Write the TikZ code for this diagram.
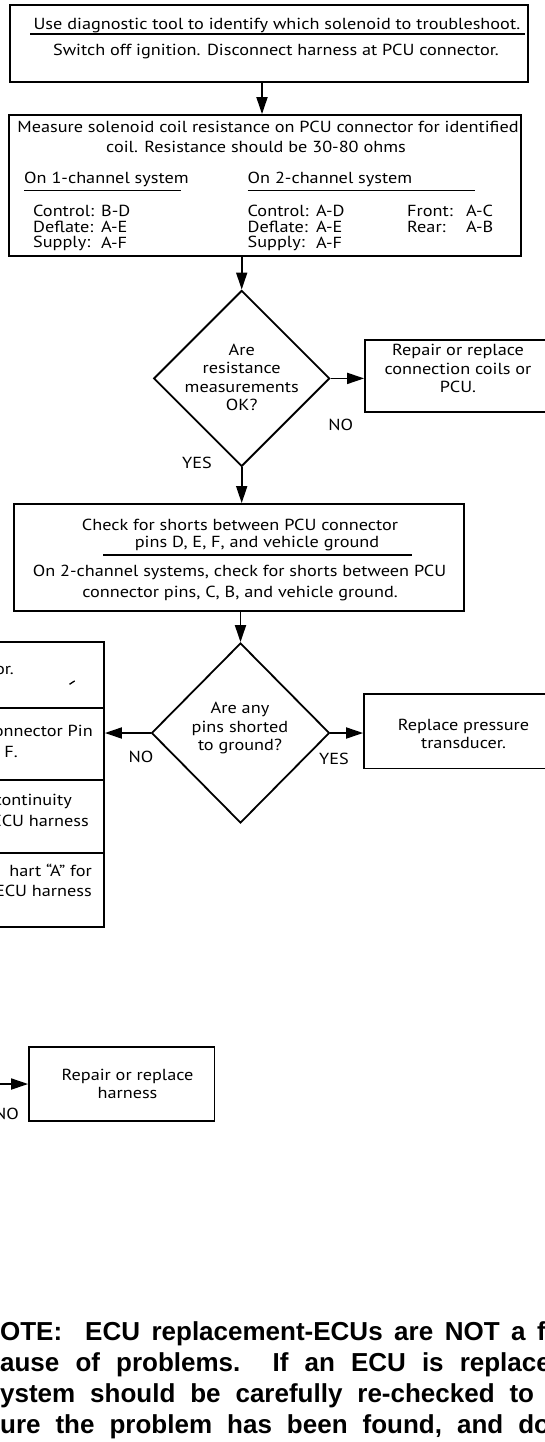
\documentclass[tikz,border=0pt]{standalone}
\usepackage{fontspec}
\newfontfamily\flowfont{PT Sans}[FakeStretch=1.14]
\newfontfamily\notefont{Liberation Sans}
\usetikzlibrary{shapes.geometric,arrows.meta}

\tikzset{
  box/.style={draw,line width=1.8pt,rectangle,inner sep=0pt},
  decide/.style={draw,line width=1.8pt,diamond,aspect=1,inner sep=0pt},
  txt/.style={font=\flowfont\fontsize{16}{18.5}\selectfont,align=center,inner sep=0pt},
  lbl/.style={font=\flowfont\fontsize{16}{18.5}\selectfont,anchor=west,inner sep=0pt},
  arr/.style={line width=1.8pt,-{Triangle[length=17pt,width=11pt]}},
  uline/.style={line width=1.3pt},
  note/.style={font=\notefont\bfseries\fontsize{26}{31}\selectfont\frenchspacing,anchor=base west,inner sep=0pt}
}

\begin{document}
\begin{tikzpicture}[x=1pt,y=-1pt]
  \useasboundingbox (0,0) rectangle (545,1442);
  \clip (0,0) rectangle (545,1442);
  \fill[white] (0,0) rectangle (545,1442);

  % Start: identify solenoid
  \node[box,minimum width=518pt,minimum height=77pt] (ident) at (269,43.5) {};
  \node[txt] (identa) at (277,26) {Use diagnostic tool to identify which solenoid to troubleshoot.};
  \draw[uline] (30,34) -- (525,34);
  \node[txt] (identb) at (276,52) {Switch off ignition. Disconnect harness at PCU connector.};

  % Coil resistance table
  \node[box,minimum width=512pt,minimum height=141pt] (measure) at (265,185.5) {};
  \node[txt] (measa) at (268,127) {Measure solenoid coil resistance on PCU connector for identified};
  \node[txt] (measb) at (256,146.5) {coil. Resistance should be 30-80 ohms};
  \node[lbl] (chone) at (24,179.5) {On 1-channel system};
  \draw[uline] (24,190.5) -- (181,190.5);
  \node[lbl] (chtwo) at (247.5,179.5) {On 2-channel system};
  \draw[uline] (247.5,190.5) -- (474.5,190.5);
  \foreach \nm/\one/\two/\yy [count=\i] in {Control:/B-D/A-D/211,Deflate:/A-E/A-E/226.5,Supply:/A-F/A-F/243} {
    \node[lbl] (onel\i) at (33,\yy) {\nm};
    \node[lbl] (onev\i) at (101,\yy) {\one};
    \node[lbl] (twol\i) at (247.5,\yy) {\nm};
    \node[lbl] (twov\i) at (316,\yy) {\two};
  }
  \node[lbl] (frontl) at (407,211) {Front:};
  \node[lbl] (frontv) at (466,211) {A-C};
  \node[lbl] (rearl) at (407,226.5) {Rear:};
  \node[lbl] (rearv) at (466,226.5) {A-B};

  % Resistance decision
  \node[decide,minimum width=176pt,minimum height=176pt] (resok) at (241.7,378.4) {};
  \node[txt] (resokt) at (241.7,377.5) {Are\\resistance\\measurements\\OK?};
  \node[box,minimum width=186pt,minimum height=72pt] (fixcoil) at (458,376) {};
  \node[txt] (fixcoilt) at (458,368.5) {Repair or replace\\connection coils or\\PCU.};
  \node[txt] (nores) at (340.7,425) {NO};
  \node[txt] (yesres) at (197,463) {YES};

  % Shorts check
  \node[box,minimum width=450pt,minimum height=107pt] (shorts) at (239,557.5) {};
  \node[txt] (shortsa) at (240,525) {Check for shorts between PCU connector};
  \node[txt] (shortsb) at (257,544) {pins D, E, F, and vehicle ground};
  \draw[uline] (103,555) -- (412,555);
  \node[txt] (shortsc) at (239.5,572) {On 2-channel systems, check for shorts between PCU};
  \node[txt] (shortsd) at (240,593) {connector pins, C, B, and vehicle ground.};

  % Shorted decision
  \node[decide,minimum width=178pt,minimum height=180pt] (chk) at (240.5,733) {};
  \node[txt] (chkt) at (240,728) {Are any\\pins shorted\\to ground?};
  \node[box,minimum width=186pt,minimum height=74.5pt] (replpt) at (457,731.25) {};
  \node[txt] (replptt) at (463.5,733.7) {Replace pressure\\transducer.};
  \node[txt] (nochk) at (141,757) {NO};
  \node[txt] (yeschk) at (334,759) {YES};

  % Boxes cut off at the left edge
  \node[box,minimum width=114pt,minimum height=66pt] (pina) at (47,674.6) {};
  \node[box,minimum width=114pt,minimum height=72.4pt] (pinbox) at (47,743.8) {};
  \node[box,minimum width=114pt,minimum height=73pt] (pinc) at (47,816.5) {};
  \node[box,minimum width=114pt,minimum height=74pt] (pind) at (47,890) {};
  \foreach \xx/\yy/\tx [count=\i] in {14/670/or.,93/731/onnector Pin,18/752/F.,72/801/continuity,89/820.6/ECU harness,92/870/hart “A” for,92/891/ECU harness} {
    \node[txt,anchor=east] (cut\i) at (\xx,\yy) {\tx};
  }
  \draw[uline] (69.5,684.3) -- (74.7,680.9);

  % Harness repair
  \node[box,minimum width=185.5pt,minimum height=74pt] (harn) at (121.75,1084) {};
  \node[txt] (harnt) at (127.5,1084) {Repair or replace\\harness};
  \coordinate (inharn) at (-5,1084);
  \node[txt,anchor=east] (noharn) at (19,1114) {NO};

  % Connectors
  \draw[arr] ([xshift=-7pt]ident.south) -- ([xshift=-3pt]measure.north);
  \draw[arr] (measure.south -| resok.north) -- (resok.north);
  \draw[arr] (resok.east) -- (resok.east -| fixcoil.west);
  \draw[arr] (resok.south) -- (resok.south |- shorts.north);
  \draw[arr] (shorts.south -| chk.north) -- (chk.north);
  \draw[arr] (chk.east) -- (chk.east -| replpt.west);
  \draw[arr] (chk.west) -- (chk.west -| pinbox.east);
  \draw[arr] (inharn) -- (harn.west);

  % Note
  \node[note] (notea) at (-18.9,1340) {\spaceskip=11.5pt\relax NOTE:\ \ ECU replacement-ECUs are NOT a frequent};
  \node[note] (noteb) at (-14.5,1371) {\spaceskip=16.1pt\relax cause of problems.\ \ If an ECU is replaced, the};
  \node[note] (notec) at (-14.5,1402) {\spaceskip=14.9pt\relax system should be carefully re-checked to en-};
  \node[note] (noted) at (-14.5,1433) {\spaceskip=15pt\relax sure the problem has been found, and does not};
\end{tikzpicture}
\end{document}
